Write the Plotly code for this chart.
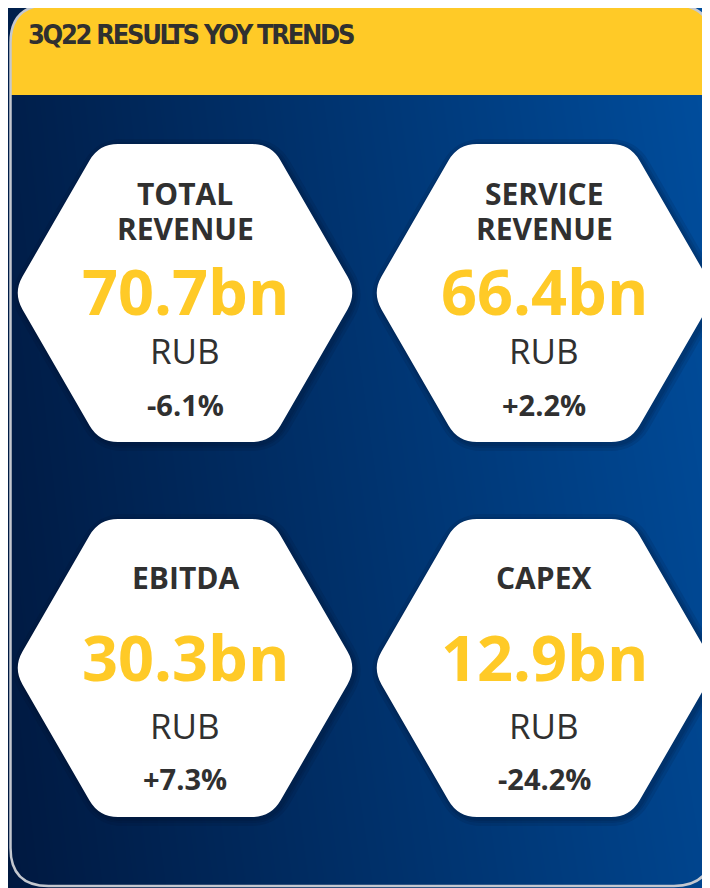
import plotly.graph_objects as go

# ------------------------------------------------------------------
# Dati
# ------------------------------------------------------------------
TITLE = "3Q22 RESULTS YOY TRENDS"
METRIC_LINES = [["TOTAL", "REVENUE"], ["SERVICE", "REVENUE"], ["EBITDA"], ["CAPEX"]]
VALUES_BN = [70.7, 66.4, 30.3, 12.9]
YOY_PCT = [-6.1, 2.2, 7.3, -24.2]
UNIT = "RUB"

# ------------------------------------------------------------------
# Stile / layout (pixel)
# ------------------------------------------------------------------
W, H = 710, 888
OFF = 8                      # margine del body della pagina
YELLOW = "#FFCA27"
DARK = "#303030"
BORDER = "#C4C8CF"
COL_X = [185, 544]
ROW_Y = [293, 668]
HEX_A, HEX_B, HEX_H = 172, 86, 149
BG_Z = [[0.12, 1.0], [0.0, 0.82]]
BG_SCALE = [[0, "#00183F"], [1, "#004FA0"]]


def _toward(p, q, d):
    dx, dy = q[0] - p[0], q[1] - p[1]
    n = (dx * dx + dy * dy) ** 0.5
    return (p[0] + dx / n * d, p[1] + dy / n * d)


def rounded_path(pts, t):
    n = len(pts)
    corners = []
    for i in range(n):
        p = pts[i]
        a = _toward(p, pts[i - 1], t)
        b = _toward(p, pts[(i + 1) % n], t)
        corners.append((a, p, b))
    s = f"M {corners[0][2][0]:.2f},{corners[0][2][1]:.2f}"
    for a, p, b in corners[1:] + corners[:1]:
        s += f" L {a[0]:.2f},{a[1]:.2f} Q {p[0]:.2f},{p[1]:.2f} {b[0]:.2f},{b[1]:.2f}"
    return s + " Z"


def hex_pts(cx, cy, grow=0):
    a, b, h = HEX_A + grow * 1.155, HEX_B + grow * 0.577, HEX_H + grow
    return [(cx - a, cy), (cx - b, cy - h), (cx + b, cy - h),
            (cx + a, cy), (cx + b, cy + h), (cx - b, cy + h)]


fig = go.Figure()

# sfondo sfumato
fig.add_trace(go.Heatmap(
    z=BG_Z, x=[0, W + OFF], y=[0, H + OFF], zsmooth="best",
    colorscale=BG_SCALE, showscale=False, hoverinfo="skip",
))

shapes = []
# banda gialla del titolo (angoli superiori arrotondati)
x0, y0, x1, y1, r = 10.5, 5, 712, 95, 38
header = (f"M {x0},{y1} L {x0},{y0 + r} Q {x0},{y0} {x0 + r},{y0} "
          f"L {x1 - r},{y0} Q {x1},{y0} {x1},{y0 + r} L {x1},{y1} Z")
shapes.append(dict(type="path", path=header, fillcolor=YELLOW, line=dict(width=0), layer="above"))

# cornice
fy1 = 886
frame = (f"M {x0},{y0 + r} Q {x0},{y0} {x0 + r},{y0} L {x1 - r},{y0} Q {x1},{y0} {x1},{y0 + r} "
         f"L {x1},{fy1 - r} Q {x1},{fy1} {x1 - r},{fy1} L {x0 + r},{fy1} Q {x0},{fy1} {x0},{fy1 - r} Z")
shapes.append(dict(type="path", path=frame, fillcolor="rgba(0,0,0,0)",
                   line=dict(color=BORDER, width=2.5), layer="above"))

annotations = [dict(
    text=f'<span style="letter-spacing:-2.3px"><b>{TITLE}</b></span>',
    x=26, y=34, xanchor="left", yanchor="middle",
    showarrow=False, xref="x", yref="y",
    font=dict(family="DejaVu Sans Condensed, sans-serif", size=27, color=DARK),
)]

for i, lines in enumerate(METRIC_LINES):
    cx = COL_X[i % 2]
    cy = ROW_Y[i // 2]
    # ombra leggera
    for g in (7, 4, 2):
        shapes.append(dict(type="path", path=rounded_path(hex_pts(cx + 2, cy + 2, g), 19 + g),
                           fillcolor="rgba(0,8,30,0.10)", line=dict(width=0), layer="above"))
    shapes.append(dict(type="path", path=rounded_path(hex_pts(cx, cy), 19),
                       fillcolor="white", line=dict(width=0), layer="above"))

    if len(lines) == 2:
        label_y = [cy - 100, cy - 65]
        val_y, unit_y, pct_y = cy - 3, cy + 57, cy + 111.5
    else:
        label_y = [cy - 91]
        val_y, unit_y, pct_y = cy - 12, cy + 57, cy + 110.5

    def add(txt, y, size, color, bold=True):
        annotations.append(dict(
            text=f"<b>{txt}</b>" if bold else txt, x=cx, y=y,
            xanchor="center", yanchor="middle", showarrow=False, xref="x", yref="y",
            font=dict(family="Open Sans, sans-serif", size=size, color=color),
        ))

    for line, ly in zip(lines, label_y):
        add(line, ly, 30, DARK)
    add(f"{VALUES_BN[i]}bn", val_y, 63, YELLOW)
    add(UNIT, unit_y, 35, DARK, bold=False)
    add(f"{YOY_PCT[i]:+.1f}%", pct_y, 29, DARK)

fig.update_layout(
    width=W, height=H,
    margin=dict(l=0, r=0, t=0, b=0),
    paper_bgcolor="#00183F", plot_bgcolor="#00183F",
    xaxis=dict(range=[OFF, W + OFF], visible=False, fixedrange=True),
    yaxis=dict(range=[H + OFF, OFF], visible=False, fixedrange=True),
    shapes=shapes, annotations=annotations,
    showlegend=False,
)

fig.write_html("out.html")
